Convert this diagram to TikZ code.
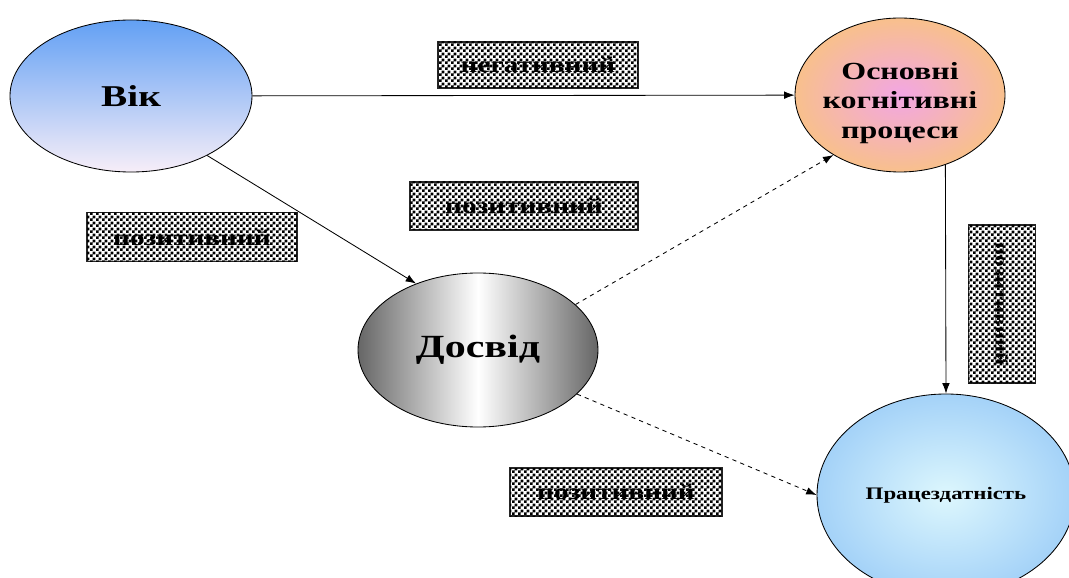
\documentclass[tikz,border=0pt]{standalone}
\usepackage{fontspec}
\setmainfont{Liberation Serif}[FakeStretch=1.3]
\usetikzlibrary{shapes.geometric,arrows.meta,patterns}
\definecolor{SkyTop}{HTML}{62A0F4}
\definecolor{SkyLow}{HTML}{F7EEF8}
\definecolor{Peach}{HTML}{F8C08C}
\definecolor{Orchid}{HTML}{F2A6E4}
\definecolor{Smoke}{HTML}{666666}
\definecolor{IceCore}{HTML}{DDF7FD}
\definecolor{IceRim}{HTML}{A4D2F8}
\definecolor{Ink}{HTML}{000000}
\pgfdeclarepatternformonly{finechecker}{\pgfpointorigin}{\pgfpoint{4pt}{4pt}}{\pgfpoint{4pt}{4pt}}{%
  \pgfpathrectangle{\pgfpointorigin}{\pgfpoint{2pt}{2pt}}%
  \pgfpathrectangle{\pgfpoint{2pt}{2pt}}{\pgfpoint{2pt}{2pt}}%
  \pgfusepath{fill}}
\begin{document}
\begin{tikzpicture}[x=1cm,y=1cm,every node/.style={text=Ink},oval/.style={ellipse,draw=Ink,line width=0.6pt,inner sep=0pt,align=center},tag/.style={rectangle,draw=black!85,line width=0.8pt,fill=white,postaction={pattern=finechecker,pattern color=black},inner sep=0pt,minimum height=1.2cm,font=\bfseries\fontsize{16}{18}\selectfont},link/.style={-{Latex[length=2.6mm,width=1.9mm]},line width=0.6pt},hint/.style={link,dash pattern=on 3pt off 3pt}]
\useasboundingbox (0,0) rectangle (26.725,14.425);
\clip (0,0) rectangle (26.725,14.425);
\fill[white] (0,0) rectangle (26.725,14.425);
% the four factors
\node[oval,minimum width=6.05cm,minimum height=3.8cm,top color=SkyTop,bottom color=SkyLow,font=\bfseries\fontsize{21.5}{24}\selectfont] (vik) at (3.275,12.025) {Вік};
\node[oval,minimum width=5.25cm,minimum height=3.85cm,inner color=Orchid,outer color=Peach,font=\bfseries\fontsize{17.5}{21}\selectfont] (kogn) at (22.5,12.05) {};
\node[align=center,font=\bfseries\fontsize{17.5}{21}\selectfont] (kogntext) at ([yshift=-0.2cm]kogn.center) {Основні\\когнітивні\\процеси};
\node[oval,minimum width=6cm,minimum height=3.85cm,left color=Smoke,right color=Smoke,middle color=white,font=\bfseries\fontsize{23}{26}\selectfont] (dosvid) at (11.95,5.675) {Досвід};
\node[oval,minimum width=6.45cm,minimum height=5.05cm,inner color=IceCore,outer color=IceRim,font=\bfseries\fontsize{12.5}{14}\selectfont] (prac) at (23.65,2.05) {Працездатність};
% effect labels
\node[tag,minimum width=5cm,minimum height=1.15cm] (neg) at (13.45,12.8) {негативний};
\node[tag,minimum width=5.25cm,minimum height=1.225cm] (pozvik) at (4.8,8.49) {позитивний};
\node[tag,minimum width=5.7cm] (pozkogn) at (13.1,9.275) {позитивний};
\node[tag,minimum width=3.95cm,minimum height=1.675cm,rotate=-90,font=\bfseries\fontsize{12.5}{14}\selectfont] (pozprac) at (25.04,6.825) {позитивний};
\node[tag,minimum width=5.3cm] (pozdos) at (15.4,2.125) {позитивний};
% links
\draw[link] (vik) -- (kogn);
\draw[link] (vik.-38) -- (dosvid.133);
\draw[hint] (dosvid.25) -- (kogn.222);
\draw[link] (kogn.-57) -- (prac.90);
\draw[hint] (dosvid.-24) -- (prac.west);
\end{tikzpicture}
\end{document}
